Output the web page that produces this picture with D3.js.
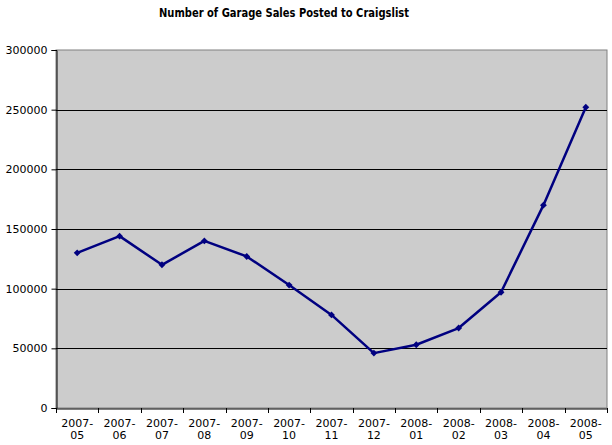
<!DOCTYPE html>
<html><head><meta charset="utf-8">
<script src="https://cdn.jsdelivr.net/npm/d3@7"></script>
<style>body{margin:0;background:#fff}svg{display:block}</style>
</head><body>
<script>
const title = "Number of Garage Sales Posted to Craigslist";
const months = ["2007-05","2007-06","2007-07","2007-08","2007-09","2007-10","2007-11","2007-12","2008-01","2008-02","2008-03","2008-04","2008-05"];
const sales = [130000,144000,120000,140000,127000,103000,78000,46000,53000,67000,97000,170000,252000];
const yTicks = [0,50000,100000,150000,200000,250000,300000];

const W=612,H=445;
const m={left:56,right:5,top:50,bottom:37};
const svg=d3.select("body").append("svg").attr("width",W).attr("height",H);
const x=d3.scaleBand().domain(months).range([m.left,W-m.right]);
const y=d3.scaleLinear().domain([0,300000]).range([H-m.bottom,m.top]);
const font="DejaVu Sans";

svg.append("rect").attr("x",m.left).attr("y",m.top).attr("width",W-m.right-m.left).attr("height",H-m.bottom-m.top)
  .attr("fill","#cccccc").attr("stroke","#808080").attr("stroke-width",1);

// gridlines
svg.append("g").selectAll("line").data(yTicks.filter(d=>d>0&&d<300000)).join("line")
  .attr("x1",m.left).attr("x2",W-m.right).attr("y1",d=>Math.round(y(d))+0.5).attr("y2",d=>Math.round(y(d))+0.5)
  .attr("stroke","#000").attr("stroke-width",1);

// y axis
const ya=svg.append("g").attr("transform",`translate(${m.left+0.5},0)`)
  .call(d3.axisLeft(y).tickValues(yTicks).tickFormat(d3.format("d")).tickSize(5).tickPadding(4));
ya.select(".domain").attr("stroke","#000");
ya.selectAll(".tick line").attr("stroke","#000");
ya.selectAll("text").attr("font-family",font).attr("font-size",11).attr("fill","#000");

// x axis
const xa=svg.append("g").attr("transform",`translate(0,${Math.round(y(0))+0.5})`)
  .call(d3.axisBottom(x).tickSize(0).tickFormat(""));
xa.select(".domain").attr("stroke","#000");
xa.selectAll(".tick line").remove();
svg.append("g").selectAll("line").data(months.concat(["__end"])).join("line")
  .attr("x1",(d,i)=>Math.round(m.left+i*x.step())+0.5).attr("x2",(d,i)=>Math.round(m.left+i*x.step())+0.5)
  .attr("y1",y(0)).attr("y2",y(0)+5).attr("stroke","#000");
const lab=svg.append("g").selectAll("text").data(months).join("text")
  .attr("x",d=>x(d)+x.bandwidth()/2).attr("text-anchor","middle")
  .attr("font-family",font).attr("font-size",11).attr("fill","#000");
lab.append("tspan").attr("x",d=>x(d)+x.bandwidth()/2).attr("y",427).text(d=>d.split("-")[0]+"-");
lab.append("tspan").attr("x",d=>x(d)+x.bandwidth()/2).attr("y",439).text(d=>d.split("-")[1]);

// line
const pts=months.map((d,i)=>[x(d)+x.bandwidth()/2,y(sales[i])]);
svg.append("path").attr("d",d3.line()(pts)).attr("fill","none").attr("stroke","#000080").attr("stroke-width",2.5).attr("stroke-linejoin","round");
svg.append("g").selectAll("path").data(pts).join("path")
  .attr("d",d3.symbol(d3.symbolDiamond2,30)).attr("transform",p=>`translate(${p[0]},${p[1]})`).attr("fill","#000080");

svg.append("text").attr("x",284).attr("y",17).attr("text-anchor","middle")
  .attr("font-family",font).attr("font-weight","bold").attr("font-size",12.5)
  .attr("textLength",250).attr("lengthAdjust","spacingAndGlyphs").text(title);
</script>
</body></html>
